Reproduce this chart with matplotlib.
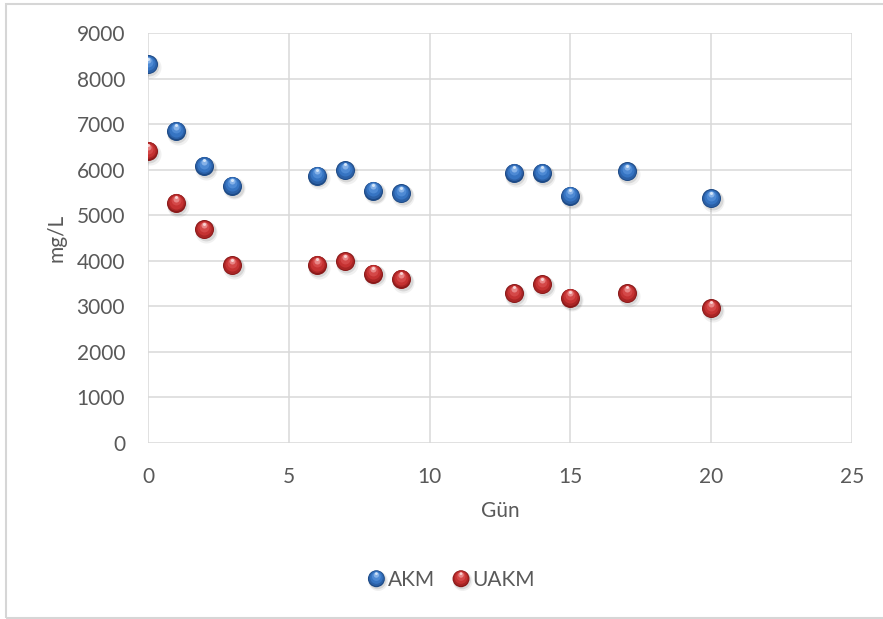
import matplotlib
matplotlib.use("Agg")
import matplotlib.pyplot as plt
from matplotlib.transforms import ScaledTranslation
from matplotlib.patches import Circle, Rectangle
from matplotlib.legend_handler import HandlerBase

# Measured values per day
gun = [0, 1, 2, 3, 6, 7, 8, 9, 13, 14, 15, 17, 20]
akm = [8310, 6850, 6080, 5650, 5870, 5990, 5540, 5480, 5930, 5930, 5430, 5960, 5370]
uakm = [6410, 5270, 4690, 3900, 3910, 3990, 3720, 3600, 3290, 3480, 3190, 3290, 2960]
series_names = ["AKM", "UAKM"]

x_ticks = [0, 5, 10, 15, 20, 25]
y_ticks = [0, 1000, 2000, 3000, 4000, 5000, 6000, 7000, 8000, 9000]

plt.rcParams["font.family"] = ["Lato", "DejaVu Sans"]
TXT = "#595959"
GRID = "#D9D9D9"

# Sphere look: (size fraction, dx fraction, dy fraction, colour, alpha)
def sphere_layers(dark, mid, main, light, lighter, white):
    return [
        (1.16, 0.10, -0.14, "#000000", 0.06),
        (1.04, 0.07, -0.10, "#000000", 0.10),
        (1.00, 0.00, 0.00, dark, 1.0),
        (0.90, 0.00, 0.03, mid, 1.0),
        (0.74, 0.00, 0.07, main, 1.0),
        (0.52, 0.00, 0.13, light, 1.0),
        (0.32, 0.00, 0.22, lighter, 1.0),
        (0.16, 0.00, 0.30, white, 0.9),
    ]

blue_layers = sphere_layers("#1D4A86", "#2B60A6", "#3674C2", "#4E8AD4", "#86B2E8", "#DCEAF9")
red_layers = sphere_layers("#8A1919", "#A92525", "#C53232", "#D44848", "#E88585", "#FADADA")

fig = plt.figure(figsize=(8.83, 6.19), dpi=100)
ax = fig.add_axes([148 / 883, 1 - 443 / 619, (852 - 148) / 883, (443 - 33) / 619])

D = 13.7  # marker diameter in points


def draw_spheres(xs, ys, layers, z):
    for frac, dxf, dyf, color, alpha in layers:
        off = ScaledTranslation(dxf * D / 72, dyf * D / 72, fig.dpi_scale_trans)
        ax.scatter(xs, ys, s=(frac * D) ** 2, c=color, alpha=alpha,
                   linewidths=0, transform=ax.transData + off, zorder=z)


draw_spheres(gun, akm, blue_layers, 3)
draw_spheres(gun, uakm, red_layers, 4)

ax.set_xlim(0, 25)
ax.set_ylim(0, 9000)
ax.set_xticks(x_ticks)
ax.set_yticks(y_ticks)
ax.grid(True, color=GRID, linewidth=1.1, zorder=0)
ax.set_axisbelow(True)
for sp in ax.spines.values():
    sp.set_visible(False)
ax.tick_params(axis="both", length=0, labelsize=15, labelcolor=TXT)
ax.tick_params(axis="y", pad=16.5)
ax.tick_params(axis="x", pad=17.0)

fig.text(56 / 883, 1 - 238 / 619, "mg/L", rotation=90, ha="center", va="center",
         fontsize=15, color=TXT)
fig.text(500 / 883, 1 - 511 / 619, "Gün", ha="center", va="center",
         fontsize=15, color=TXT)


class SphereHandler(HandlerBase):
    def __init__(self, layers, diam):
        super().__init__()
        self.layers = layers
        self.diam = diam

    def create_artists(self, legend, orig_handle, xdescent, ydescent, width,
                       height, fontsize, trans):
        cx = 0.5 * width - xdescent
        cy = 0.5 * height - ydescent
        arts = []
        for frac, dxf, dyf, color, alpha in self.layers:
            c = Circle((cx + dxf * self.diam, cy + dyf * self.diam),
                       frac * self.diam / 2, facecolor=color, edgecolor="none",
                       alpha=alpha, transform=trans)
            arts.append(c)
        return arts


h1 = plt.Line2D([], [])
h2 = plt.Line2D([], [])
leg = fig.legend([h1, h2], series_names, loc="center",
                 bbox_to_anchor=(451 / 883, 1 - 580 / 619), ncol=2, frameon=False,
                 fontsize=15, labelcolor=TXT, handlelength=0.9, handleheight=0.8,
                 handletextpad=0.1, columnspacing=0.8, borderpad=0,
                 handler_map={h1: SphereHandler(blue_layers, 12.2),
                              h2: SphereHandler(red_layers, 12.2)})

# Chart frame
fig.patches.append(Rectangle((6 / 883, 1 / 619), 1.0, (618 - 4) / 619,
                             transform=fig.transFigure, fill=False,
                             edgecolor="#D6D6D6", linewidth=1.5, zorder=0))

fig.savefig("out.png", dpi=100, facecolor="white")
